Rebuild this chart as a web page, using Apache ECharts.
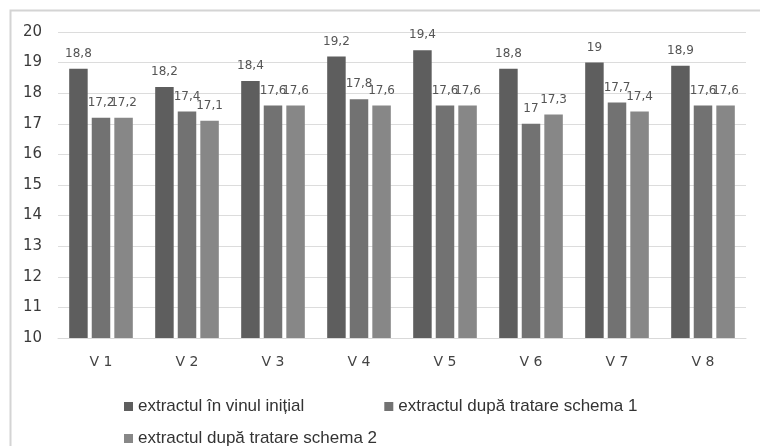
<!DOCTYPE html>
<html><head><meta charset="utf-8">
<script src="https://cdn.jsdelivr.net/npm/echarts@6/dist/echarts.min.js"></script>
<style>html,body{margin:0;padding:0;background:#fff}#c{width:760px;height:446px}</style>
</head><body><div id="c"></div>
<script>
const categories = ['V 1','V 2','V 3','V 4','V 5','V 6','V 7','V 8'];
const seriesNames = ['extractul în vinul inițial','extractul după tratare schema 1','extractul după tratare schema 2'];
const initial = [18.8, 18.2, 18.4, 19.2, 19.4, 18.8, 19.0, 18.9];
const schema1 = [17.2, 17.4, 17.6, 17.8, 17.6, 17.0, 17.7, 17.6];
const schema2 = [17.2, 17.1, 17.6, 17.6, 17.6, 17.3, 17.4, 17.6];
const yTicks = [10,11,12,13,14,15,16,17,18,19,20];
const colors = ['#5e5e5e','#727272','#878787'];

const chart = echarts.init(document.getElementById('c'), null, {renderer:'canvas'});
const lbl = {show:true, position:'top', distance:9, color:'#555', fontSize:12, fontFamily:'DejaVu Sans',
  formatter: p => String(p.value).replace('.', ',')};
const legendBase = {itemWidth:9, itemHeight:9, icon:'rect', orient:'horizontal', itemGap:80,
  textStyle:{color:'#333', fontSize:17, fontFamily:'Liberation Sans'}};
chart.setOption({
  animation:false,
  backgroundColor:'#fff',
  graphic:[{type:'rect', shape:{x:10.5,y:10.5,width:800,height:500}, style:{fill:'none',stroke:'#d4d4d4',lineWidth:2}}],
  color: colors,
  grid:{left:58, right:14, top:32, bottom:108, containLabel:false},
  xAxis:{type:'category', data:categories, axisTick:{show:false},
    axisLine:{lineStyle:{color:'#d9d9d9'}},
    axisLabel:{color:'#444', fontSize:14, fontFamily:'DejaVu Sans', margin:17}},
  yAxis:{type:'value', min:yTicks[0], max:yTicks[yTicks.length-1], interval:1,
    axisLine:{show:false}, axisTick:{show:false},
    splitLine:{lineStyle:{color:'#dcdcdc'}},
    axisLabel:{color:'#3a3a3a', fontSize:15, fontFamily:'DejaVu Sans', margin:16, align:'right'}},
  legend:[
    Object.assign({left:119, top:393, data:[seriesNames[0], seriesNames[1]]}, legendBase),
    Object.assign({left:119, top:425, data:[seriesNames[2]]}, legendBase)
  ],
  series:[
    {name:seriesNames[0], type:'bar', data:initial, barGap:'22%', barCategoryGap:'26%', label:lbl},
    {name:seriesNames[1], type:'bar', data:schema1, barGap:'22%', barCategoryGap:'26%', label:lbl},
    {name:seriesNames[2], type:'bar', data:schema2, barGap:'22%', barCategoryGap:'26%', label:lbl}
  ]
});
</script></body></html>
